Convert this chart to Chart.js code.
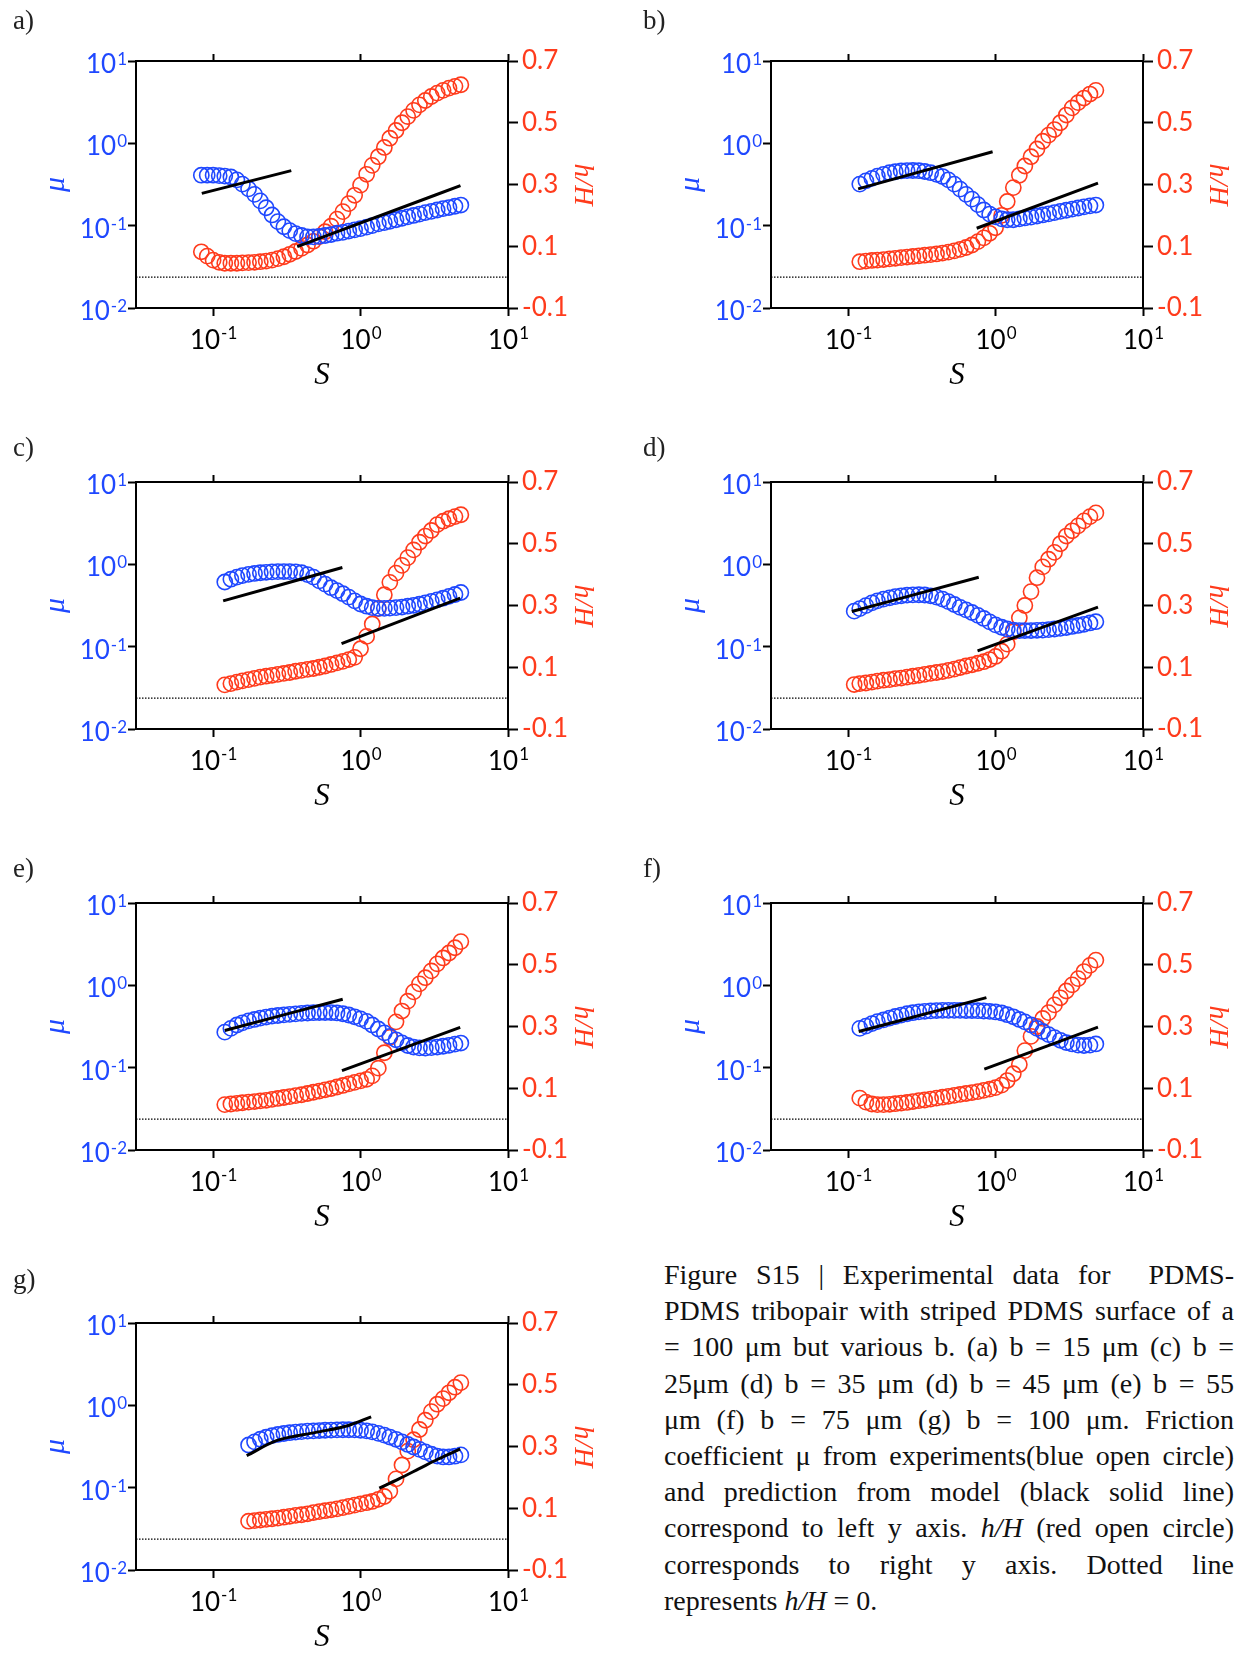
<!DOCTYPE html>
<html>
<head>
<meta charset="utf-8">
<script src="https://cdn.jsdelivr.net/npm/chart.js@4.4.1/dist/chart.umd.min.js"></script>
<style>
html, body { margin: 0; padding: 0; overflow: hidden; background: #fff; }
body { position: relative; width: 1238px; height: 1654px; }
canvas { position: absolute; }
.lab { position: absolute; font-family: "Liberation Serif", "Times New Roman", serif; font-size: 27px; line-height: 27px; color: #222; }
.cap { position: absolute; left: 664px; top: 1257px; width: 570px; font-family: "Liberation Serif", "Times New Roman", serif; font-size: 28px; line-height: 36.2px; color: #111; }
.cap div { text-align: justify; text-align-last: justify; }
.cap div.last { text-align-last: left; }
</style>
</head>
<body>

<div class="cap">
<div>Figure S15 | Experimental data for&nbsp; PDMS-</div>
<div>PDMS tribopair with striped PDMS surface of a</div>
<div>= 100 μm but various b. (a) b = 15 μm (c) b =</div>
<div>25μm (d) b = 35 μm (d) b = 45 μm (e) b = 55</div>
<div>μm (f) b = 75 μm (g) b = 100 μm. Friction</div>
<div>coefficient μ from experiments(blue open circle)</div>
<div>and prediction from model (black solid line)</div>
<div>correspond to left y axis. <i>h/H</i> (red open circle)</div>
<div>corresponds to right y axis. Dotted line</div>
<div class="last">represents <i>h/H</i> = 0.</div>
</div>

<script>
// axes
const xRange = [0.03, 10];
const muRange = [0.01, 10];
const hRange = [-0.1, 0.7];
const xTicks = [0.1, 1, 10];
const muTicks = [0.01, 0.1, 1, 10];
const hTicks = [-0.1, 0.1, 0.3, 0.5, 0.7];
const zeroLine = [0, 0];

// sliding speed S (same speeds in every panel, panels start at different points)
const speedS = [0.0832, 0.0912, 0.100, 0.110, 0.120, 0.132, 0.145, 0.158, 0.174, 0.191,
  0.209, 0.229, 0.251, 0.275, 0.302, 0.331, 0.363, 0.398, 0.437, 0.479,
  0.525, 0.575, 0.631, 0.692, 0.759, 0.832, 0.912, 1.00, 1.10, 1.20,
  1.32, 1.45, 1.58, 1.74, 1.91, 2.09, 2.29, 2.51, 2.75, 3.02,
  3.31, 3.63, 3.98, 4.37, 4.79];
const firstIndex = [0, 4, 4, 3, 4, 4, 8];

// (a)
const muA = [0.41, 0.41, 0.41, 0.405, 0.40, 0.39, 0.36, 0.32, 0.28, 0.24,
  0.20, 0.165, 0.135, 0.112, 0.097, 0.087, 0.080, 0.076, 0.073, 0.073,
  0.074, 0.076, 0.078, 0.081, 0.083, 0.086, 0.089, 0.092, 0.096, 0.100,
  0.105, 0.109, 0.113, 0.118, 0.123, 0.128, 0.133, 0.138, 0.144, 0.149,
  0.155, 0.161, 0.166, 0.172, 0.178];
const hA = [0.082, 0.068, 0.055, 0.048, 0.045, 0.045, 0.045, 0.046, 0.047, 0.048,
  0.050, 0.052, 0.055, 0.060, 0.066, 0.074, 0.083, 0.093, 0.104, 0.116,
  0.131, 0.147, 0.165, 0.188, 0.212, 0.238, 0.265, 0.298, 0.333, 0.362,
  0.39, 0.42, 0.45, 0.475, 0.50, 0.52, 0.54, 0.558, 0.572, 0.585,
  0.596, 0.605, 0.612, 0.618, 0.623];
const fitA1S = [0.0838, 0.339], fitA1Mu = [0.247, 0.466];
const fitA2S = [0.372, 4.76], fitA2Mu = [0.0556, 0.306];

// (b)
const muB = [0.32, 0.35, 0.375, 0.40, 0.42, 0.44, 0.452, 0.462, 0.467, 0.468,
  0.465, 0.455, 0.44, 0.42, 0.395, 0.36, 0.32, 0.278, 0.24, 0.21,
  0.18, 0.155, 0.138, 0.128, 0.121, 0.118, 0.118, 0.121, 0.124, 0.127,
  0.131, 0.135, 0.139, 0.144, 0.149, 0.154, 0.159, 0.164, 0.169, 0.174,
  0.178];
const hB = [0.050, 0.052, 0.054, 0.055, 0.057, 0.059, 0.061, 0.063, 0.065, 0.067,
  0.069, 0.071, 0.073, 0.075, 0.078, 0.081, 0.085, 0.090, 0.096, 0.104,
  0.115, 0.127, 0.142, 0.160, 0.20, 0.245, 0.29, 0.33, 0.36, 0.39,
  0.415, 0.44, 0.46, 0.478, 0.50, 0.525, 0.548, 0.565, 0.58, 0.593,
  0.605];
const fitB1S = [0.117, 0.955], fitB1Mu = [0.28, 0.79];
const fitB2S = [0.745, 4.95], fitB2Mu = [0.093, 0.328];

// (c)
const muC = [0.61, 0.66, 0.70, 0.73, 0.755, 0.775, 0.79, 0.80, 0.81, 0.815,
  0.817, 0.815, 0.81, 0.79, 0.75, 0.70, 0.63, 0.575, 0.52, 0.48,
  0.44, 0.40, 0.36, 0.33, 0.31, 0.298, 0.292, 0.292, 0.294, 0.298,
  0.303, 0.31, 0.318, 0.328, 0.34, 0.355, 0.37, 0.388, 0.408, 0.43,
  0.455];
const hC = [0.043, 0.047, 0.052, 0.056, 0.060, 0.064, 0.068, 0.071, 0.074, 0.077,
  0.080, 0.083, 0.087, 0.090, 0.093, 0.096, 0.100, 0.104, 0.109, 0.114,
  0.119, 0.125, 0.132, 0.16, 0.20, 0.24, 0.29, 0.335, 0.375, 0.405,
  0.43, 0.455, 0.48, 0.505, 0.525, 0.543, 0.562, 0.573, 0.581, 0.588,
  0.594];
const fitC1S = [0.117, 0.753], fitC1Mu = [0.36, 0.914];
const fitC2S = [0.743, 4.74], fitC2Mu = [0.109, 0.388];

// (d)
const muD = [0.27, 0.29, 0.315, 0.34, 0.36, 0.378, 0.392, 0.405, 0.415, 0.422,
  0.426, 0.427, 0.424, 0.415, 0.40, 0.378, 0.352, 0.325, 0.30, 0.28,
  0.26, 0.24, 0.22, 0.20, 0.184, 0.172, 0.164, 0.159, 0.157, 0.157,
  0.157, 0.158, 0.159, 0.161, 0.164, 0.167, 0.171, 0.176, 0.181, 0.187,
  0.194, 0.201];
const hD = [0.044, 0.047, 0.049, 0.052, 0.055, 0.058, 0.060, 0.063, 0.065, 0.068,
  0.071, 0.074, 0.077, 0.080, 0.083, 0.086, 0.090, 0.094, 0.099, 0.104,
  0.108, 0.113, 0.118, 0.125, 0.135, 0.152, 0.175, 0.215, 0.26, 0.30,
  0.345, 0.39, 0.425, 0.45, 0.472, 0.50, 0.525, 0.542, 0.558, 0.574,
  0.588, 0.60];
const fitD1S = [0.106, 0.769], fitD1Mu = [0.267, 0.697];
const fitD2S = [0.755, 4.95], fitD2Mu = [0.089, 0.302];

// (e)
const muE = [0.27, 0.30, 0.33, 0.35, 0.37, 0.385, 0.40, 0.412, 0.422, 0.43,
  0.437, 0.444, 0.45, 0.456, 0.461, 0.465, 0.467, 0.468, 0.467, 0.462,
  0.452, 0.436, 0.415, 0.392, 0.365, 0.33, 0.295, 0.265, 0.24, 0.218,
  0.20, 0.186, 0.178, 0.174, 0.173, 0.175, 0.178, 0.182, 0.187, 0.193,
  0.199];
const hE = [0.047, 0.049, 0.051, 0.053, 0.055, 0.057, 0.059, 0.061, 0.064, 0.067,
  0.070, 0.073, 0.076, 0.079, 0.083, 0.087, 0.091, 0.095, 0.099, 0.104,
  0.109, 0.114, 0.119, 0.124, 0.129, 0.14, 0.165, 0.215, 0.265, 0.315,
  0.35, 0.382, 0.412, 0.438, 0.458, 0.48, 0.503, 0.522, 0.538, 0.555,
  0.575];
const fitE1S = [0.120, 0.757], fitE1Mu = [0.283, 0.678];
const fitE2S = [0.748, 4.74], fitE2Mu = [0.092, 0.308];

// (f)
const muF = [0.30, 0.32, 0.343, 0.362, 0.38, 0.40, 0.418, 0.435, 0.452, 0.465,
  0.476, 0.484, 0.49, 0.494, 0.496, 0.497, 0.497, 0.496, 0.495, 0.494,
  0.492, 0.488, 0.482, 0.475, 0.462, 0.44, 0.415, 0.385, 0.36, 0.33,
  0.30, 0.275, 0.252, 0.232, 0.215, 0.202, 0.194, 0.188, 0.186, 0.188,
  0.194];
const hF = [0.068, 0.055, 0.049, 0.047, 0.047, 0.048, 0.050, 0.052, 0.054, 0.057,
  0.060, 0.062, 0.065, 0.068, 0.071, 0.074, 0.077, 0.080, 0.083, 0.086,
  0.089, 0.093, 0.097, 0.102, 0.110, 0.125, 0.147, 0.177, 0.222, 0.268,
  0.30, 0.326, 0.345, 0.37, 0.393, 0.415, 0.435, 0.455, 0.478, 0.498,
  0.515];
const fitF1S = [0.118, 0.867], fitF1Mu = [0.275, 0.709];
const fitF2S = [0.839, 4.95], fitF2Mu = [0.096, 0.31];

// (g)
const muG = [0.33, 0.36, 0.388, 0.41, 0.428, 0.443, 0.455, 0.465, 0.473, 0.48,
  0.486, 0.49, 0.494, 0.498, 0.501, 0.504, 0.505, 0.505, 0.504, 0.498,
  0.49, 0.476, 0.457, 0.435, 0.412, 0.387, 0.36, 0.335, 0.312, 0.292,
  0.272, 0.255, 0.242, 0.236, 0.236, 0.241, 0.25];
const hG = [0.058, 0.060, 0.062, 0.064, 0.066, 0.068, 0.071, 0.074, 0.077, 0.079,
  0.082, 0.086, 0.089, 0.092, 0.095, 0.098, 0.102, 0.106, 0.110, 0.114,
  0.118, 0.122, 0.129, 0.138, 0.155, 0.195, 0.24, 0.285, 0.322, 0.355,
  0.385, 0.413, 0.437, 0.455, 0.474, 0.492, 0.507];
const fitG1S = [0.169, 0.269, 0.498, 0.817, 1.18], fitG1Mu = [0.245, 0.372, 0.469, 0.565, 0.725];
const fitG2S = [1.34, 1.82, 2.48, 3.37, 4.74], fitG2Mu = [0.0986, 0.128, 0.169, 0.223, 0.295];

const panelLetters = ['a)', 'b)', 'c)', 'd)', 'e)', 'f)', 'g)'];

// layout (page pixels)
const canvasLeft = [0, 635, 0, 635, 0, 635, 0];
const canvasTop = [0, 0, 421, 421, 842, 842, 1262];
const letterLeft = [13, 643, 13, 643, 13, 643, 13];
const letterBase = [30, 30, 457, 457, 878, 878, 1289];
const CW = 620, CH = 420;
const AREA = {left: 136, top: 61, right: 508, bottom: 308};

const blue = '#1f48ff';
const red = '#ff3b1c';

Chart.defaults.font.family = 'Lato';

function pts(xs, ys) {
  return xs.map((x, i) => ({x: x, y: ys[i]}));
}

function drawPower(ctx, v, x, y, mode, color) {
  const exp = String(Math.round(Math.log10(v)));
  ctx.fillStyle = color;
  ctx.textAlign = 'left';
  ctx.textBaseline = 'alphabetic';
  ctx.font = '26px Lato';
  const wb = ctx.measureText('10').width;
  ctx.font = '17px Lato';
  const we = ctx.measureText(exp).width;
  let x0, yb, ys;
  if (mode === 'center') {
    x0 = x - (wb + we) / 2; yb = y + 41; ys = y + 31;
  } else {
    x0 = x - wb - we - 1; yb = y + 12; ys = y + 4;
  }
  ctx.font = '26px Lato';
  ctx.fillText('10', x0, yb);
  ctx.font = '17px Lato';
  ctx.fillText(exp, x0 + wb + 1, ys);
}

// labels 10^n with real superscripts on the two log axes
const powLabels = {
  id: 'powLabels',
  afterDraw(chart) {
    const ctx = chart.ctx, area = chart.chartArea;
    ctx.save();
    const xs = chart.scales.x;
    xs.ticks.forEach(t => drawPower(ctx, t.value, xs.getPixelForValue(t.value), area.bottom, 'center', '#000'));
    const ys = chart.scales.y;
    ys.ticks.forEach(t => drawPower(ctx, t.value, area.left - 9, ys.getPixelForValue(t.value), 'right', blue));
    ctx.restore();
  }
};

function tickSet(list) {
  return s => { s.ticks = list.map(v => ({value: v})); };
}

const gridOpts = (len) => ({drawOnChartArea: false, drawTicks: true, tickLength: len, tickWidth: 2, tickColor: '#000'});
const borderOpts = {display: true, color: '#000', width: 2};

function makePanel(i, mu, h, fit1S, fit1Mu, fit2S, fit2Mu) {
  const cv = document.createElement('canvas');
  cv.width = CW; cv.height = CH;
  cv.style.left = canvasLeft[i] + 'px';
  cv.style.top = canvasTop[i] + 'px';
  document.body.appendChild(cv);

  const lab = document.createElement('div');
  lab.className = 'lab';
  lab.textContent = panelLetters[i];
  lab.style.left = letterLeft[i] + 'px';
  lab.style.top = (letterBase[i] - 22.6) + 'px';
  document.body.appendChild(lab);

  const s = speedS.slice(firstIndex[i], firstIndex[i] + mu.length);

  new Chart(cv, {
    type: 'scatter',
    data: {
      datasets: [
        {data: pts(fit1S, fit1Mu), yAxisID: 'y', showLine: true, borderColor: '#000', borderWidth: 3,
          pointRadius: 0, cubicInterpolationMode: 'monotone'},
        {data: pts(fit2S, fit2Mu), yAxisID: 'y', showLine: true, borderColor: '#000', borderWidth: 3,
          pointRadius: 0, cubicInterpolationMode: 'monotone'},
        {data: pts(s, mu), yAxisID: 'y', borderColor: blue, backgroundColor: 'rgba(0,0,0,0)',
          pointRadius: 7.6, pointBorderWidth: 1.6},
        {data: pts(s, h), yAxisID: 'y2', borderColor: red, backgroundColor: 'rgba(0,0,0,0)',
          pointRadius: 7.6, pointBorderWidth: 1.6},
        {data: pts(xRange, zeroLine), yAxisID: 'y2', showLine: true, borderColor: '#000', borderWidth: 1.2,
          borderDash: [1.5, 1.5], pointRadius: 0}
      ]
    },
    options: {
      responsive: false,
      devicePixelRatio: 1,
      animation: false,
      events: [],
      layout: {padding: 0},
      plugins: {legend: {display: false}, tooltip: {enabled: false}},
      scales: {
        x: {
          type: 'logarithmic', position: 'bottom', min: xRange[0], max: xRange[1],
          afterBuildTicks: tickSet(xTicks),
          afterFit: sc => { sc.height = CH - AREA.bottom; },
          ticks: {display: false},
          grid: gridOpts(8), border: borderOpts,
          title: {display: true, text: 'S', color: '#000',
            font: {family: 'Liberation Serif', style: 'italic', size: 31, lineHeight: 1},
            padding: {top: 0, bottom: 29}}
        },
        xTop: {
          type: 'logarithmic', position: 'top', min: xRange[0], max: xRange[1],
          afterBuildTicks: tickSet(xTicks),
          afterFit: sc => { sc.height = AREA.top; },
          ticks: {display: false},
          grid: gridOpts(7), border: borderOpts
        },
        y: {
          type: 'logarithmic', position: 'left', min: muRange[0], max: muRange[1],
          afterBuildTicks: tickSet(muTicks),
          afterFit: sc => { sc.width = AREA.left; },
          ticks: {display: false},
          grid: gridOpts(8), border: borderOpts,
          title: {display: true, text: 'μ', color: blue,
            font: {family: 'Liberation Serif', style: 'italic', size: 30, lineHeight: 1},
            padding: {top: 41, bottom: 0}}
        },
        y2: {
          type: 'linear', position: 'right', min: hRange[0], max: hRange[1],
          afterBuildTicks: tickSet(hTicks),
          afterFit: sc => { sc.width = CW - AREA.right; },
          ticks: {color: red, font: {family: 'Lato', size: 26}, padding: 4,
            callback: v => Number(v).toFixed(1)},
          grid: gridOpts(10), border: borderOpts,
          title: {display: true, text: 'h/H', color: red,
            font: {family: 'Liberation Serif', style: 'italic', size: 28, lineHeight: 1},
            padding: {top: 24, bottom: 0}}
        }
      }
    },
    plugins: [powLabels]
  });
}

makePanel(0, muA, hA, fitA1S, fitA1Mu, fitA2S, fitA2Mu);
makePanel(1, muB, hB, fitB1S, fitB1Mu, fitB2S, fitB2Mu);
makePanel(2, muC, hC, fitC1S, fitC1Mu, fitC2S, fitC2Mu);
makePanel(3, muD, hD, fitD1S, fitD1Mu, fitD2S, fitD2Mu);
makePanel(4, muE, hE, fitE1S, fitE1Mu, fitE2S, fitE2Mu);
makePanel(5, muF, hF, fitF1S, fitF1Mu, fitF2S, fitF2Mu);
makePanel(6, muG, hG, fitG1S, fitG1Mu, fitG2S, fitG2Mu);
</script>
</body>
</html>
